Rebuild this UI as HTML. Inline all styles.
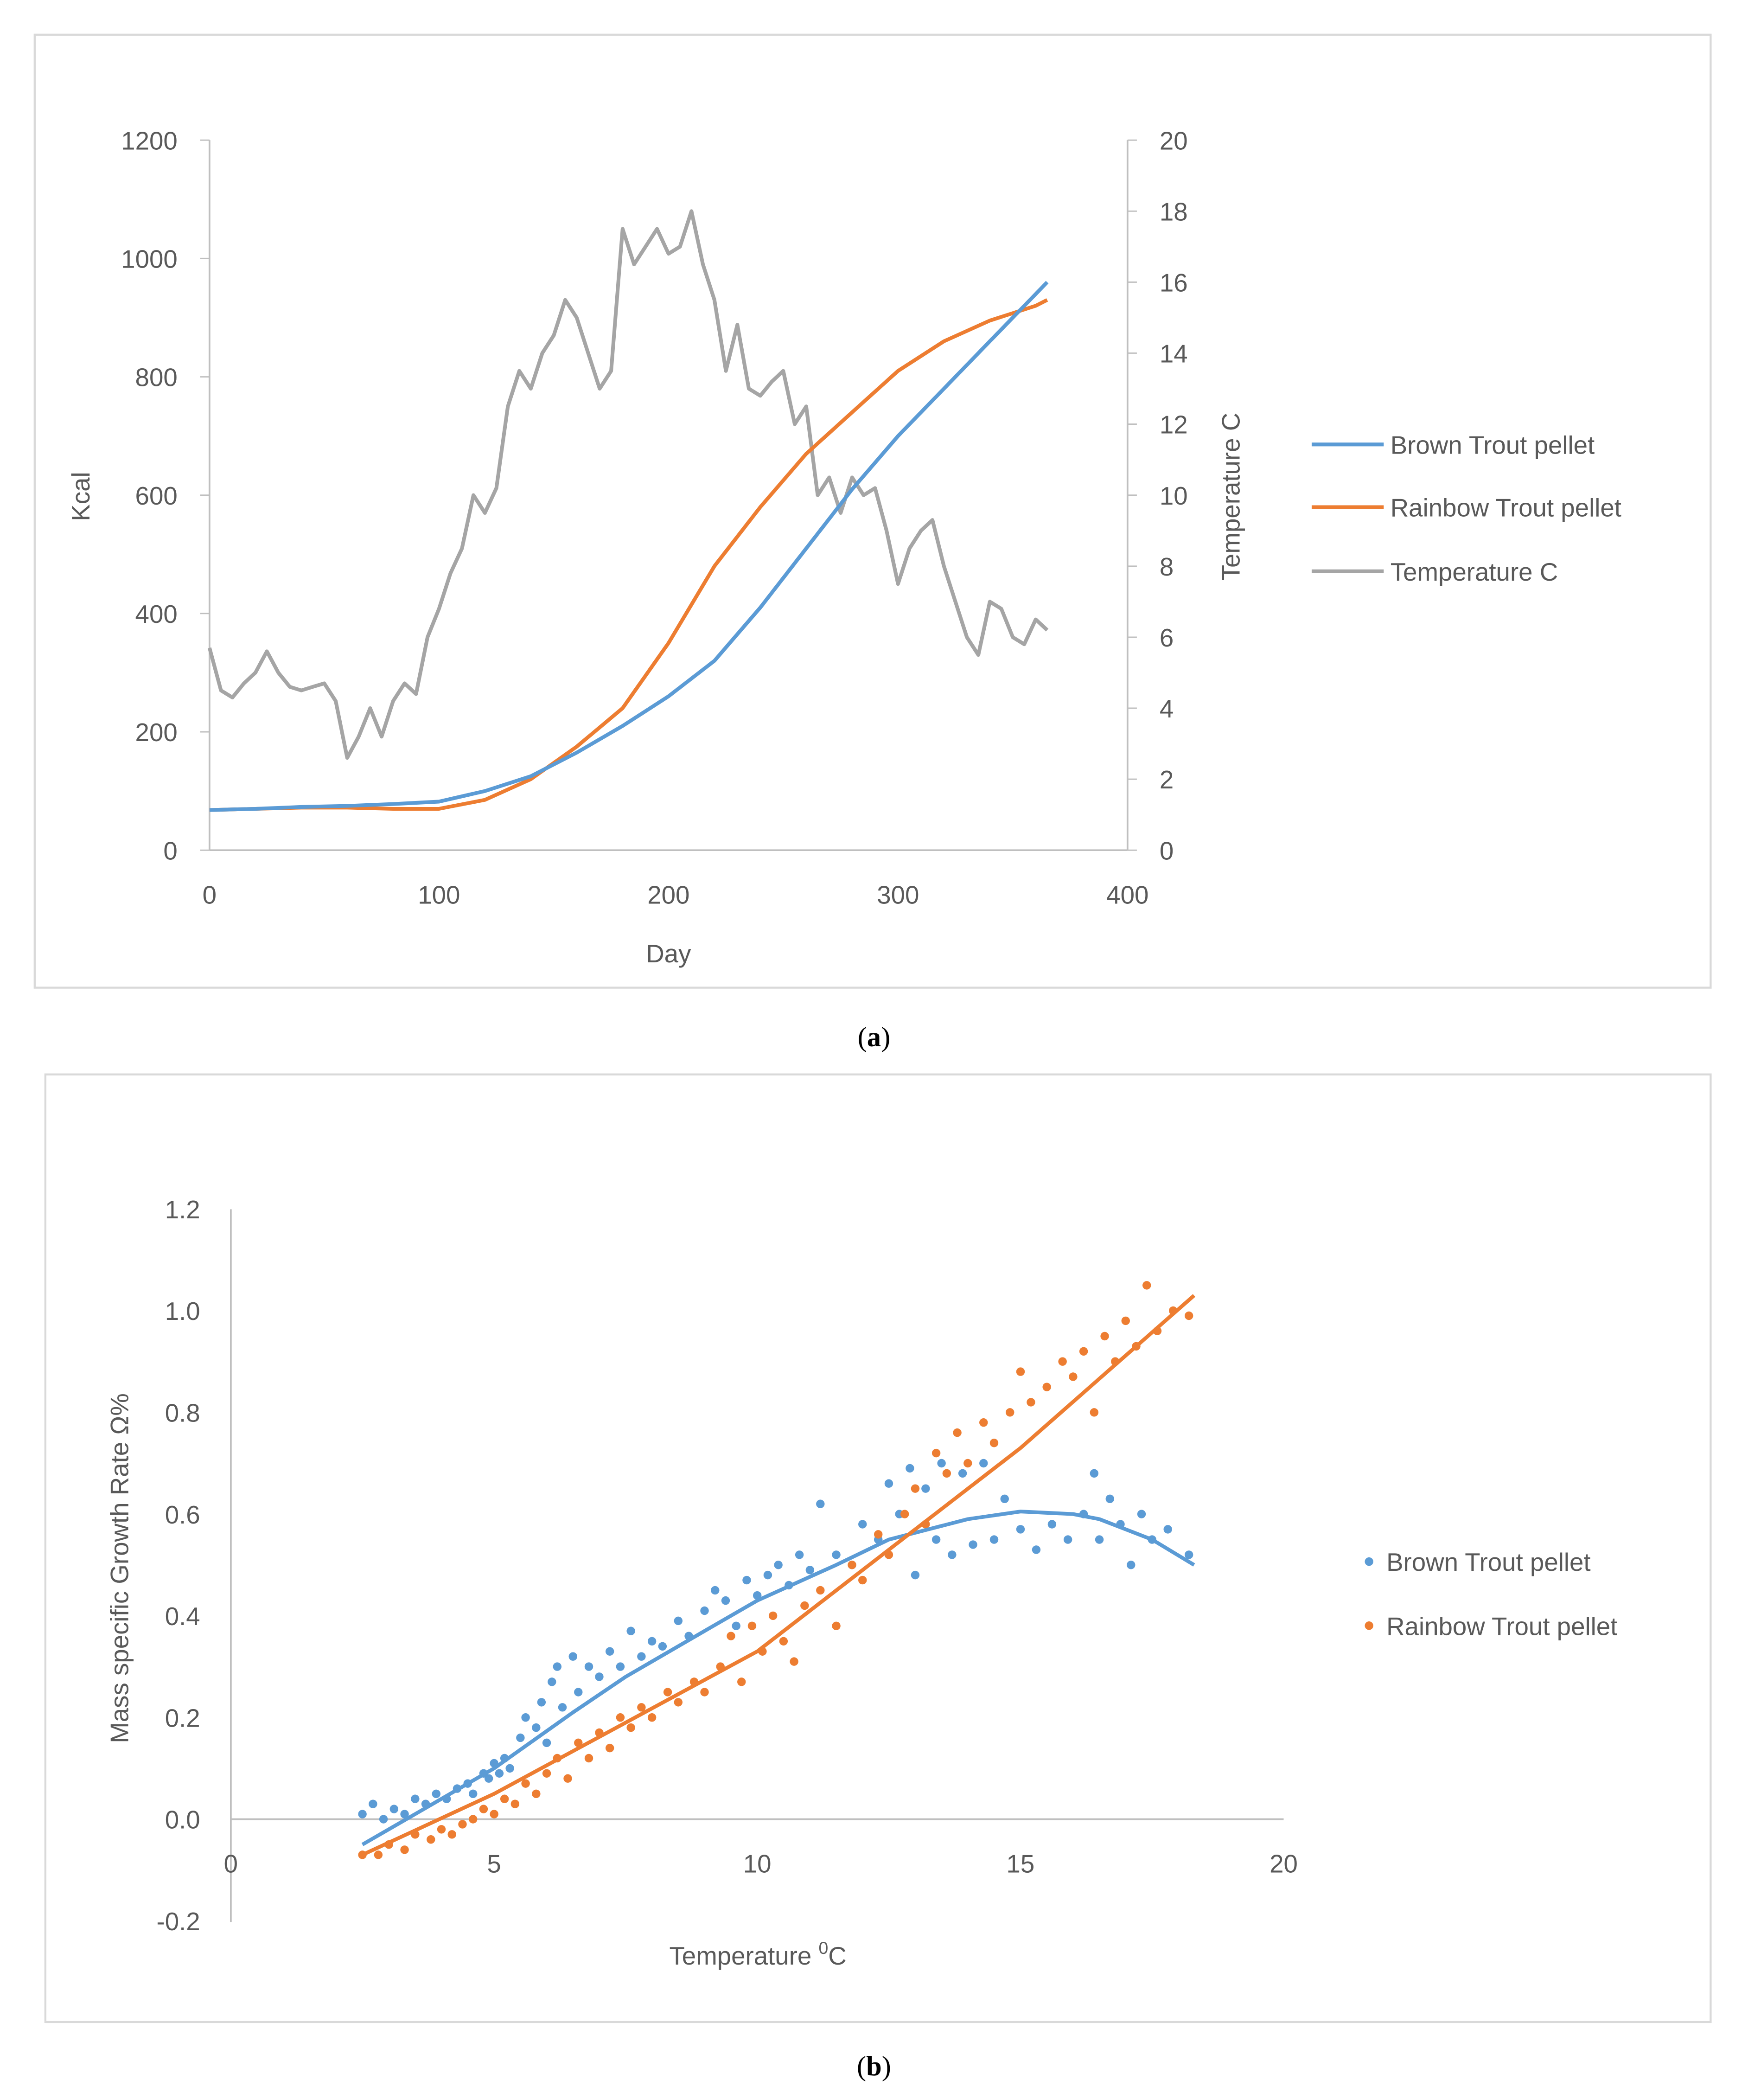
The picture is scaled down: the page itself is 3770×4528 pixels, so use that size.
<!DOCTYPE html>
<html><head><meta charset="utf-8"><title>Trout charts</title>
<style>
html,body{margin:0;padding:0;background:#fff;}
svg{display:block;font-family:"Liberation Sans",sans-serif;}
</style></head>
<body>
<svg id="root" width="3770" height="4528" viewBox="0 0 1310 1573.4" xmlns="http://www.w3.org/2000/svg">
<rect x="0" y="0" width="1310" height="1574" fill="#fff"/>
<rect x="26" y="26" width="1256" height="714" fill="#fff" stroke="#d9d9d9" stroke-width="1.5"/>
<rect x="34" y="805" width="1248" height="710" fill="#fff" stroke="#d9d9d9" stroke-width="1.5"/>
<g id="ga"></g>
<g id="gb"></g>
<text x="655" y="784" text-anchor="middle" font-family="Liberation Serif,serif" font-size="21" fill="#000">(<tspan font-weight="bold">a</tspan>)</text>
<text x="655" y="1555" text-anchor="middle" font-family="Liberation Serif,serif" font-size="21" fill="#000">(<tspan font-weight="bold">b</tspan>)</text>
</svg>
<script>
// ---------- Chart A data ----------
const tempDays = [0,5,10,15,20,25,30,35,40,45,50,55,60,65,70,75,80,85,90,95,100,105,110,115,120,125,130,135,140,145,150,155,160,165,170,175,180,185,190,195,200,205,210,215,220,225,230,235,240,245,250,255,260,265,270,275,280,285,290,295,300,305,310,315,320,325,330,335,340,345,350,355,360,365];
const tempValues = [5.7,4.5,4.3,4.7,5,5.6,5,4.6,4.5,4.6,4.7,4.2,2.6,3.2,4,3.2,4.2,4.7,4.4,6,6.8,7.8,8.5,10,9.5,10.2,12.5,13.5,13,14,14.5,15.5,15,14,13,13.5,17.5,16.5,17,17.5,16.8,17,18,16.5,15.5,13.5,14.8,13,12.8,13.2,13.5,12,12.5,10,10.5,9.5,10.5,10,10.2,9,7.5,8.5,9,9.3,8,7,6,5.5,7,6.8,6,5.8,6.5,6.2];
const kcalDays = [0,20,40,60,80,100,120,140,160,180,200,220,240,260,280,300,320,340,360,365];
const brownKcal = [68,70,73,75,78,82,100,125,165,210,260,320,410,510,610,700,780,860,940,960];
const rainbowKcal = [68,70,72,72,70,70,85,120,175,240,350,480,580,670,740,810,860,895,920,930];
const dayTicks = [0,100,200,300,400];
const kcalTicks = [0,200,400,600,800,1000,1200];
const tempTicks = [0,2,4,6,8,10,12,14,16,18,20];

// ---------- Chart B data ----------
const brownT = [2.5,2.7,2.9,3.1,3.3,3.5,3.7,3.9,4.1,4.3,4.5,4.6,4.8,4.9,5.0,5.1,5.2,5.3,5.5,5.6,5.8,5.9,6.0,6.1,6.2,6.3,6.5,6.6,6.8,7.0,7.2,7.4,7.6,7.8,8.0,8.2,8.5,8.7,9.0,9.2,9.4,9.6,9.8,10.0,10.2,10.4,10.6,10.8,11.0,11.2,11.5,11.8,12.0,12.3,12.5,12.7,12.9,13.0,13.2,13.4,13.5,13.7,13.9,14.1,14.3,14.5,14.7,15.0,15.3,15.6,15.9,16.2,16.4,16.5,16.7,16.9,17.1,17.3,17.5,17.8,18.2];
const brownRate = [0.01,0.03,0.0,0.02,0.01,0.04,0.03,0.05,0.04,0.06,0.07,0.05,0.09,0.08,0.11,0.09,0.12,0.1,0.16,0.2,0.18,0.23,0.15,0.27,0.3,0.22,0.32,0.25,0.3,0.28,0.33,0.3,0.37,0.32,0.35,0.34,0.39,0.36,0.41,0.45,0.43,0.38,0.47,0.44,0.48,0.5,0.46,0.52,0.49,0.62,0.52,0.5,0.58,0.55,0.66,0.6,0.69,0.48,0.65,0.55,0.7,0.52,0.68,0.54,0.7,0.55,0.63,0.57,0.53,0.58,0.55,0.6,0.68,0.55,0.63,0.58,0.5,0.6,0.55,0.57,0.52];
const rainbowT = [2.5,2.8,3.0,3.3,3.5,3.8,4.0,4.2,4.4,4.6,4.8,5.0,5.2,5.4,5.6,5.8,6.0,6.2,6.4,6.6,6.8,7.0,7.2,7.4,7.6,7.8,8.0,8.3,8.5,8.8,9.0,9.3,9.5,9.7,9.9,10.1,10.3,10.5,10.7,10.9,11.2,11.5,11.8,12.0,12.3,12.5,12.8,13.0,13.2,13.4,13.6,13.8,14.0,14.3,14.5,14.8,15.0,15.2,15.5,15.8,16.0,16.2,16.4,16.6,16.8,17.0,17.2,17.4,17.6,17.9,18.2];
const rainbowRate = [-0.07,-0.07,-0.05,-0.06,-0.03,-0.04,-0.02,-0.03,-0.01,0.0,0.02,0.01,0.04,0.03,0.07,0.05,0.09,0.12,0.08,0.15,0.12,0.17,0.14,0.2,0.18,0.22,0.2,0.25,0.23,0.27,0.25,0.3,0.36,0.27,0.38,0.33,0.4,0.35,0.31,0.42,0.45,0.38,0.5,0.47,0.56,0.52,0.6,0.65,0.58,0.72,0.68,0.76,0.7,0.78,0.74,0.8,0.88,0.82,0.85,0.9,0.87,0.92,0.8,0.95,0.9,0.98,0.93,1.05,0.96,1.0,0.99];
const brownTrendT = [2.5,3.5,5,6.5,7.5,9,10,11.5,12.5,14,15,16,16.5,17.5,18.3];
const brownTrendV = [-0.05,0.01,0.1,0.21,0.28,0.37,0.43,0.5,0.55,0.59,0.605,0.6,0.59,0.55,0.5];
const rainbowTrendT = [2.5,5,10,15,18.3];
const rainbowTrendV = [-0.07,0.05,0.33,0.73,1.03];
const tempXTicks = [0,5,10,15,20];
const rateTicks = [-0.2,0,0.2,0.4,0.6,0.8,1.0,1.2];

const NS = "http://www.w3.org/2000/svg";
const BLUE="#5b9bd5", ORANGE="#ed7d31", GRAY="#a5a5a5", AX="#bfbfbf", TX="#595959";
function mk(tag, parent, attrs){const e=document.createElementNS(NS,tag);for(const k in attrs)e.setAttribute(k,attrs[k]);parent.appendChild(e);return e;}
function txt(parent, x, y, s, attrs){const e=mk('text',parent,Object.assign({x:x,y:y,fill:TX,'font-size':19},attrs||{}));e.textContent=s;return e;}

// ---------- Chart A ----------
const ga=document.getElementById('ga');
const ax=d=>157+(d/400)*(845-157);
const ayK=v=>637-(v/1200)*(637-105);
const ayT=v=>637-(v/20)*(637-105);
let l=mk('line',ga,{x1:157,y1:105,x2:157,y2:637,stroke:AX,'stroke-width':1.3});

l=mk('line',ga,{x1:845,y1:105,x2:845,y2:637,stroke:AX,'stroke-width':1.3});

l=mk('line',ga,{x1:157,y1:637,x2:845,y2:637,stroke:AX,'stroke-width':1.3});

kcalTicks.forEach(v=>{const y=ayK(v);
 const t=mk('line',ga,{x1:150,y1:y,x2:157,y2:y,stroke:AX});
 
 const s=txt(ga,133,y+7,String(v),{'text-anchor':'end'});
 });
tempTicks.forEach(v=>{const y=ayT(v);
 const t=mk('line',ga,{x1:845,y1:y,x2:852,y2:y,stroke:AX});
 
 const s=txt(ga,869,y+7,String(v),{});
 });
dayTicks.forEach(v=>{const x=ax(v);
 const s=txt(ga,x,677,String(v),{'text-anchor':'middle'});
 });
let s=txt(ga,501,721,'Day',{'text-anchor':'middle'});

s=txt(ga,0,0,'Kcal',{'text-anchor':'middle',transform:'translate(67,372) rotate(-90)'});

s=txt(ga,0,0,'Temperature C',{'text-anchor':'middle',transform:'translate(929,372) rotate(-90)'});

function poly(parent,xs,ys,fx,fy,color,name){
 const pts=xs.map((x,i)=>fx(x).toFixed(1)+','+fy(ys[i]).toFixed(1)).join(' ');
 const p=mk('polyline',parent,{points:pts,fill:'none',stroke:color,'stroke-width':2.8,'stroke-linejoin':'round'});
 return p;}
poly(ga,tempDays,tempValues,ax,ayT,GRAY,'temperature-line');
poly(ga,kcalDays,rainbowKcal,ax,ayK,ORANGE,'rainbow-trout-line');
poly(ga,kcalDays,brownKcal,ax,ayK,BLUE,'brown-trout-line');
[['Brown Trout pellet',BLUE,333],['Rainbow Trout pellet',ORANGE,380],['Temperature C',GRAY,428]].forEach(([n,c,y])=>{
 const g=mk('g',ga,{});
 mk('line',g,{x1:983,y1:y,x2:1037,y2:y,stroke:c,'stroke-width':2.8});
 txt(g,1042,y+7,n,{});});

// ---------- Chart B ----------
const gb=document.getElementById('gb');
const bx=t=>173+(t/20)*(962-173);
const by=v=>1363-(v/0.2)*76.2;
l=mk('line',gb,{x1:173,y1:906,x2:173,y2:1440,stroke:AX,'stroke-width':1.3});

l=mk('line',gb,{x1:173,y1:1363,x2:962,y2:1363,stroke:AX,'stroke-width':1.3});

rateTicks.forEach(v=>{const y=by(v);
 const t=txt(gb,150,y+7,v.toFixed(1),{'text-anchor':'end'});
 });
tempXTicks.forEach(v=>{const x=bx(v);
 const t=txt(gb,x,1403,String(v),{'text-anchor':'middle'});
 });
s=txt(gb,568,1472,'',{'text-anchor':'middle'});
s.innerHTML='Temperature <tspan dy="-8" font-size="13">0</tspan><tspan dy="8">C</tspan>';

s=txt(gb,0,0,'Mass specific Growth Rate \u03A9%',{'text-anchor':'middle',transform:'translate(96,1175) rotate(-90)'});

function dots(xs,ys,color,name){xs.forEach((x,i)=>{
 const c=mk('circle',gb,{cx:bx(x).toFixed(1),cy:by(ys[i]).toFixed(1),r:3.2,fill:color});
 });}
dots(brownT,brownRate,BLUE,'brown-trout-point');
dots(rainbowT,rainbowRate,ORANGE,'rainbow-trout-point');
poly(gb,brownTrendT,brownTrendV,bx,by,BLUE,'brown-trout-trendline');
poly(gb,rainbowTrendT,rainbowTrendV,bx,by,ORANGE,'rainbow-trout-trendline');
[['Brown Trout pellet',BLUE,1170],['Rainbow Trout pellet',ORANGE,1218]].forEach(([n,c,y])=>{
 const g=mk('g',gb,{});
 mk('circle',g,{cx:1026,cy:y,r:3.2,fill:c});
 txt(g,1039,y+7,n,{});});
</script>
</body></html>
